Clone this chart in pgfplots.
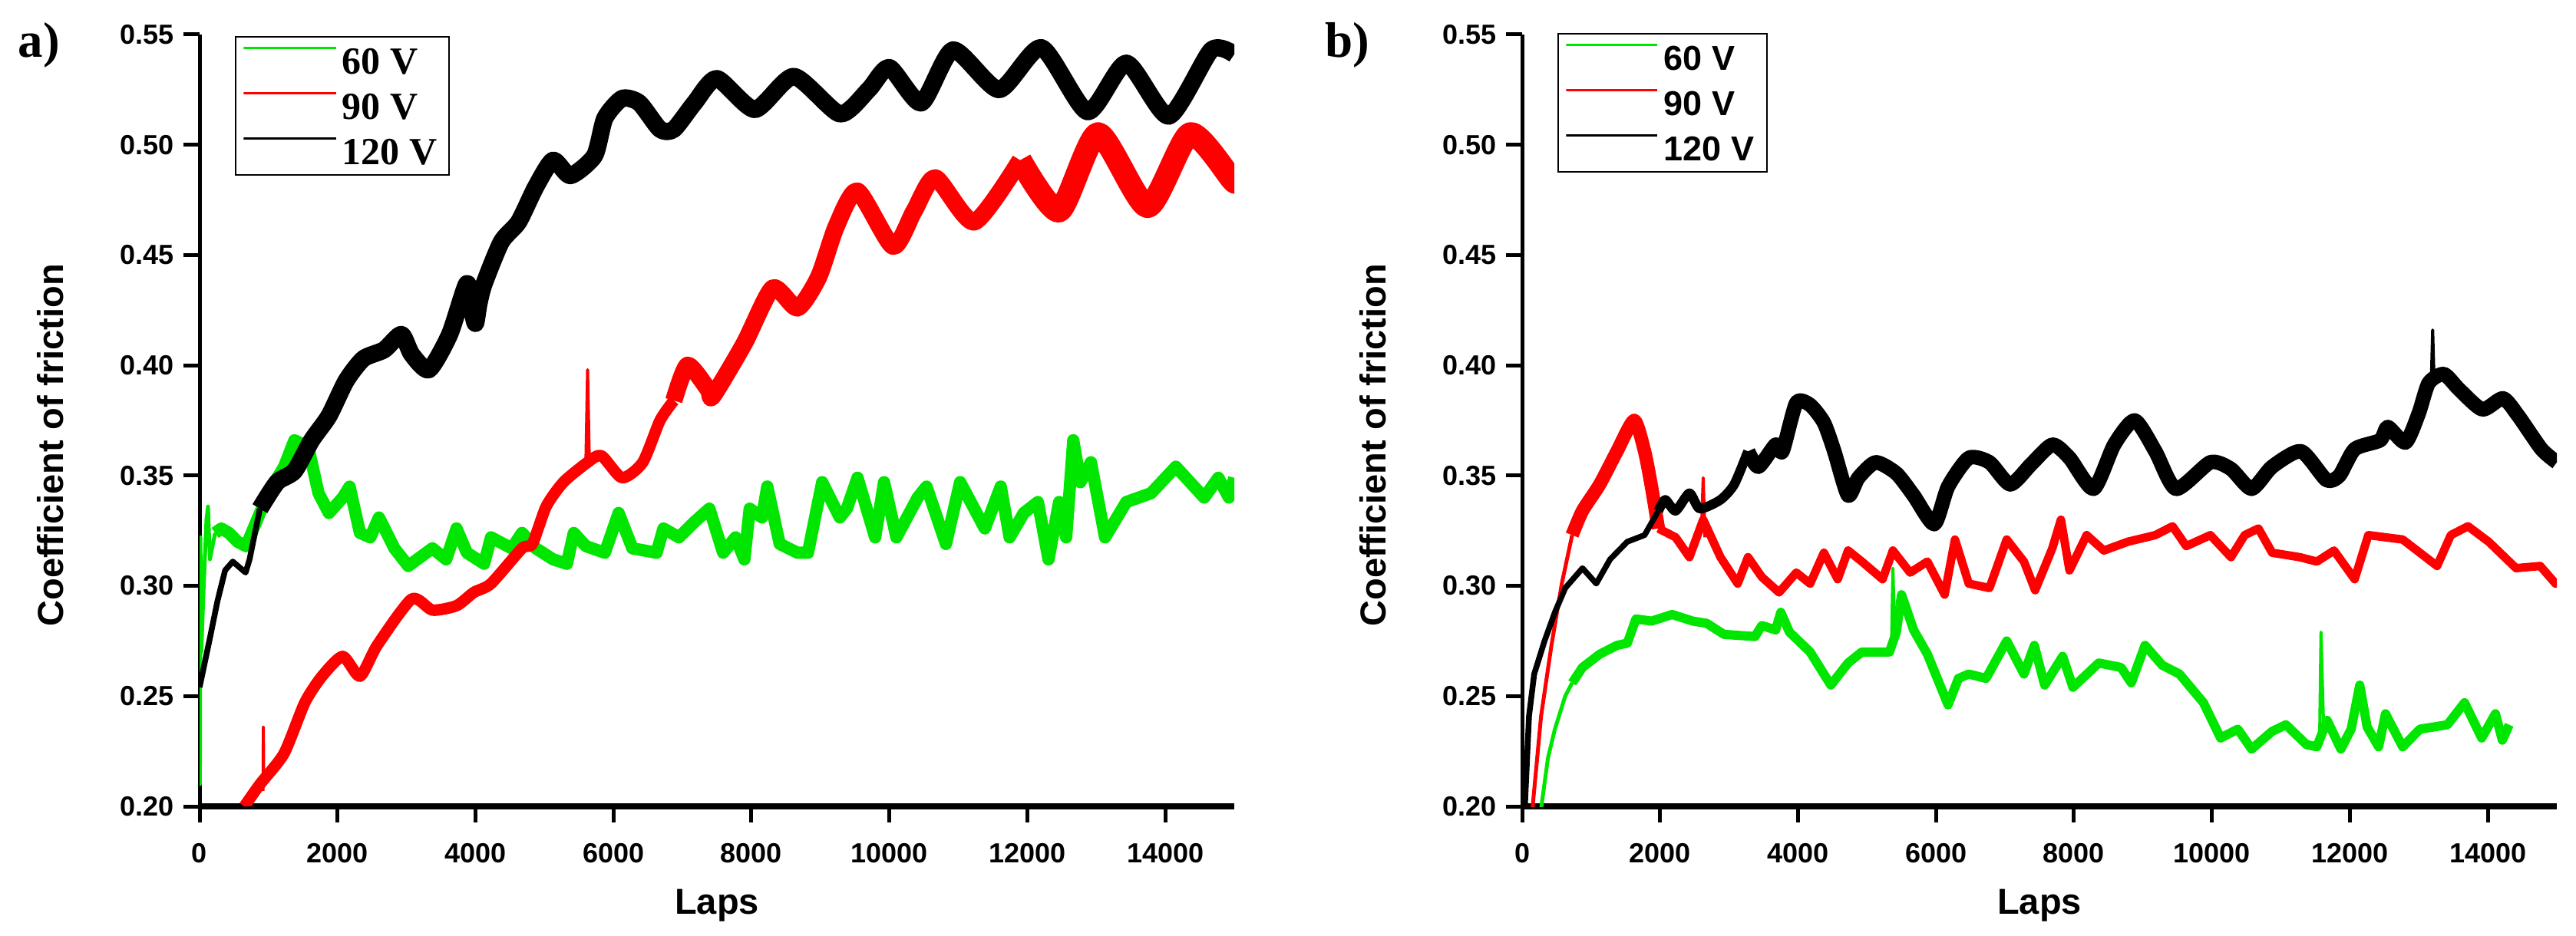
\documentclass[border=0pt]{standalone}
\usepackage{fontspec}
\setmainfont{Liberation Sans}
\newfontfamily\timesfont{Liberation Serif}
\usepackage{pgfplots}
\pgfplotsset{compat=1.18}
\definecolor{cgreen}{RGB}{0,230,0}
\definecolor{cred}{RGB}{255,0,0}
\pgfplotsset{
 cofaxis/.style={
  scale only axis, width=269.6bp, height=201.2bp,
  xmin=0, xmax=15000, ymin=0.2, ymax=0.55,
  scaled x ticks=false, scaled y ticks=false,
  axis x line*=bottom, axis y line*=left,
  x axis line style={line width=1.6bp},
  y axis line style={line width=1bp},
  tick align=outside, major tick length=4.2bp,
  tick style={black, line width=1bp},
  xtick={0,2000,4000,6000,8000,10000,12000,14000},
  xticklabels={0,2000,4000,6000,8000,10000,12000,14000},
  ytick={0.2,0.25,0.3,0.35,0.4,0.45,0.5,0.55},
  yticklabels={0.20,0.25,0.30,0.35,0.40,0.45,0.50,0.55},
  ticklabel style={font=\bfseries\fontsize{7.2bp}{8bp}\selectfont},
  xticklabel style={yshift=-2bp},
  yticklabel style={xshift=1bp},
  xlabel={Laps}, ylabel={Coefficient of friction},
  label style={font=\bfseries\fontsize{9.4bp}{11bp}\selectfont},
  xlabel style={at={(axis description cs:0.5,-0.140)}, anchor=base},
  ylabel style={at={(axis description cs:-0.132,0.468)}, anchor=base},
  legend cell align=left,
 },
 band/.style={line join=round, line cap=butt, forget plot},
}
\begin{document}
\begin{tikzpicture}
\useasboundingbox (0,0) rectangle (671.2bp,244bp);
% ---------------- panel a ----------------
\begin{axis}[cofaxis, at={(52bp,33.8bp)}, anchor=south west,
  legend style={at={(axis description cs:0.034,0.998)}, anchor=north west,
    draw=black, line width=0.4bp, inner xsep=1.8bp, inner ysep=0.3bp,
    font=\timesfont\bfseries\fontsize{10bp}{12bp}\selectfont,
    nodes={inner xsep=1.3bp, inner ysep=2.5bp, text height=6.8bp, text depth=0bp},
    row sep=0pt},
  legend image code/.code={\path (0bp,3.4bp) rectangle (24.1bp,3.4bp); \draw[#1] (1.8bp,3.4bp) -- (22.8bp,3.4bp);}]
\addlegendimage{cgreen, line width=0.6bp}
\addlegendimage{cred, line width=0.6bp}
\addlegendimage{black, line width=0.6bp}
% 60 V
\addplot[cgreen, line width=1bp, band] coordinates {(0,0.258)(5,0.21)(12,0.322)(25,0.27)(60,0.30)(100,0.330)(122,0.336)(150,0.312)(225,0.324)};
\addplot[cgreen, line width=3.2bp, band] coordinates {
(225,0.324)(315,0.326)(425,0.324)(550,0.320)(675,0.318)(875,0.333)(1050,0.345)(1225,0.354)(1375,0.366)(1575,0.363)(1725,0.342)(1875,0.333)(2075,0.340)(2175,0.345)(2325,0.324)(2475,0.322)(2600,0.331)(2825,0.317)(3025,0.309)(3200,0.313)(3375,0.317)(3575,0.312)(3725,0.326)(3875,0.315)(4125,0.310)(4225,0.322)(4525,0.317)(4675,0.324)(4875,0.317)(5125,0.312)(5325,0.310)(5425,0.324)(5600,0.318)(5875,0.315)(6075,0.333)(6275,0.317)(6625,0.315)(6725,0.326)(6950,0.322)(7175,0.329)(7390,0.335)(7590,0.315)(7770,0.322)(7898,0.312)(7975,0.335)(8154,0.331)(8230,0.345)(8410,0.319)(8667,0.315)(8820,0.315)(9026,0.347)(9282,0.331)(9384,0.335)(9538,0.349)(9794,0.322)(9923,0.347)(10102,0.322)(10410,0.340)(10538,0.345)(10820,0.319)(11026,0.347)(11384,0.326)(11615,0.345)(11743,0.322)(11948,0.333)(12153,0.338)(12307,0.312)(12461,0.338)(12563,0.322)(12666,0.366)(12769,0.347)(12922,0.356)(13127,0.322)(13435,0.338)(13794,0.342)(14153,0.354)(14564,0.340)(14769,0.349)(14923,0.340)(15000,0.349)};
% 90 V
\addplot[cred, line width=3bp, band, smooth, tension=0.4] coordinates {
(650,0.200)(875,0.210)(1225,0.224)(1525,0.247)(1775,0.259)(2075,0.268)(2325,0.259)(2575,0.273)(3075,0.294)(3375,0.289)(3725,0.291)(3975,0.297)(4225,0.301)(4675,0.317)(4825,0.319)(5025,0.336)(5275,0.347)(5625,0.356)(5825,0.359)(6125,0.349)(6425,0.356)(6675,0.375)(6875,0.384)};
\addplot[cred, line width=4.5bp, band, smooth, tension=0.4] coordinates {
(6875,0.384)(7075,0.400)(7375,0.389)(7440,0.386)(7898,0.410)(8308,0.435)(8667,0.426)(8974,0.440)(9230,0.463)(9538,0.479)(10051,0.454)(10359,0.470)(10667,0.485)(11230,0.465)(11897,0.493)};
\addplot[cred, line width=6bp, band, smooth, tension=0.4] coordinates {
(11897,0.493)(12461,0.470)(13025,0.505)(13743,0.472)(14359,0.505)(14974,0.484)(15000,0.484)};
\addplot[cred, line width=0.8bp, band] coordinates {(920,0.207)(925,0.236)(930,0.209)};
\addplot[cred, line width=0.8bp, band] coordinates {(5600,0.355)(5625,0.398)(5650,0.357)};
% 120 V
\addplot[black, line width=1.5bp, band] coordinates {
(0,0.254)(148,0.276)(259,0.293)(370,0.307)(481,0.311)(667,0.306)(725,0.312)(875,0.335)};
\addplot[black, line width=4.5bp, band, smooth, tension=0.4] coordinates {
(875,0.335)(1125,0.347)(1375,0.352)(1625,0.366)(1875,0.377)(2125,0.393)(2375,0.403)(2675,0.407)(2925,0.414)(3075,0.405)(3325,0.398)(3625,0.414)(3875,0.437)(3950,0.425)(4000,0.419)(4050,0.428)(4125,0.437)(4375,0.456)(4625,0.465)(4875,0.481)(5125,0.493)(5375,0.486)(5725,0.495)(5875,0.512)(6125,0.521)(6375,0.519)(6675,0.507)(6875,0.507)(7175,0.519)(7500,0.530)(8050,0.516)(8615,0.531)(9282,0.514)(9700,0.525)(10000,0.535)(10462,0.519)(10923,0.543)(11590,0.525)(12205,0.544)(12872,0.515)(13436,0.537)(14051,0.513)(14667,0.543)(15000,0.541)};
\legend{60 V,90 V,120 V}
\end{axis}
% ---------------- panel b ----------------
\begin{axis}[cofaxis, at={(396.6bp,33.8bp)}, anchor=south west,
  legend style={at={(axis description cs:0.034,1.002)}, anchor=north west,
    draw=black, line width=0.4bp, inner xsep=1.8bp, inner ysep=0.3bp,
    font=\bfseries\fontsize{9bp}{11bp}\selectfont,
    nodes={inner xsep=1.5bp, inner ysep=2.65bp, text height=6.5bp, text depth=0bp},
    row sep=0pt},
  legend image code/.code={\path (0bp,3.25bp) rectangle (23.7bp,3.25bp); \draw[#1] (1bp,3.25bp) -- (22.2bp,3.25bp);}]
\addlegendimage{cgreen, line width=0.6bp}
\addlegendimage{cred, line width=0.6bp}
\addlegendimage{black, line width=0.6bp}
% 60 V
\addplot[cgreen, line width=1bp, band] coordinates {(275,0.199)(375,0.222)(475,0.235)(625,0.250)(725,0.256)};
\addplot[cgreen, line width=2.4bp, band] coordinates {
(725,0.256)(875,0.263)(1125,0.269)(1375,0.273)(1525,0.274)(1650,0.285)(1875,0.284)(2175,0.287)(2475,0.284)(2675,0.283)(2925,0.278)(3375,0.277)(3475,0.282)(3675,0.280)(3750,0.288)(3875,0.279)(4175,0.270)(4475,0.255)(4725,0.265)(4925,0.270)(5325,0.270)(5425,0.279)(5500,0.296)(5675,0.280)(5875,0.269)(6175,0.246)(6325,0.258)(6475,0.260)(6725,0.258)(7025,0.275)(7275,0.260)(7425,0.273)(7575,0.255)(7836,0.268)(7985,0.254)(8359,0.265)(8682,0.263)(8831,0.256)(9030,0.273)(9280,0.264)(9529,0.260)(9877,0.247)(10126,0.231)(10375,0.235)(10575,0.226)(10873,0.234)(11072,0.237)(11371,0.228)(11521,0.227)(11670,0.239)(11869,0.226)(12018,0.235)(12143,0.255)(12250,0.236)(12417,0.227)(12516,0.242)(12765,0.227)(13015,0.235)(13414,0.237)(13662,0.247)(13911,0.231)(14110,0.242)(14210,0.230)(14310,0.237)};
\addplot[cgreen, line width=0.8bp, band] coordinates {(5355,0.272)(5375,0.308)(5400,0.280)};
\addplot[cgreen, line width=0.8bp, band] coordinates {(11560,0.228)(11581,0.279)(11620,0.235)};
% 90 V
\addplot[cred, line width=1bp, band] coordinates {(150,0.199)(275,0.241)(425,0.273)(575,0.301)(725,0.323)};
\addplot[cred, line width=3.5bp, band, smooth, tension=0.4] coordinates {
(725,0.323)(875,0.334)(1125,0.346)(1375,0.361)(1625,0.375)(1775,0.361)(1875,0.345)(1975,0.326)};
\addplot[cred, line width=2.2bp, band] coordinates {
(1975,0.326)(2225,0.322)(2425,0.313)(2625,0.330)(2875,0.313)(3125,0.301)(3275,0.313)(3475,0.304)(3725,0.297)(3975,0.306)(4175,0.301)(4375,0.315)(4575,0.303)(4725,0.316)(4925,0.311)(5225,0.303)(5375,0.316)(5625,0.306)(5875,0.311)(6125,0.296)(6275,0.321)(6475,0.301)(6775,0.299)(7025,0.321)(7275,0.311)(7437,0.298)(7686,0.317)(7811,0.330)(7935,0.307)(8184,0.323)(8433,0.316)(8782,0.320)(9180,0.323)(9429,0.327)(9628,0.318)(9977,0.323)(10276,0.313)(10475,0.323)(10674,0.326)(10873,0.315)(11272,0.313)(11521,0.311)(11770,0.316)(12069,0.303)(12267,0.323)(12765,0.321)(13264,0.309)(13463,0.323)(13712,0.327)(14011,0.320)(14409,0.308)(14758,0.309)(14982,0.301)(15000,0.301)};
\addplot[cred, line width=0.8bp, band] coordinates {(2600,0.325)(2625,0.349)(2650,0.322)};
% 120 V
\addplot[black, line width=1.5bp, band] coordinates {
(40,0.200)(100,0.241)(175,0.260)(325,0.275)(475,0.288)(625,0.299)(875,0.308)(1075,0.301)(1275,0.312)(1525,0.320)(1775,0.323)(1975,0.334)};
\addplot[black, line width=2.5bp, band, smooth, tension=0.4] coordinates {
(1975,0.334)(2075,0.339)(2225,0.334)(2425,0.342)(2575,0.335)(2875,0.339)(3075,0.346)(3275,0.361)};
\addplot[black, line width=3.8bp, band, smooth, tension=0.4] coordinates {
(3275,0.361)(3425,0.354)(3675,0.364)(3775,0.361)(3975,0.383)(4175,0.382)(4375,0.374)(4525,0.361)(4725,0.341)(4875,0.349)(5125,0.356)(5425,0.351)(5675,0.341)(5975,0.328)(6175,0.345)(6475,0.358)(6775,0.356)(7075,0.346)(7375,0.355)(7686,0.364)(7935,0.358)(8284,0.344)(8583,0.364)(8881,0.375)(9180,0.361)(9479,0.344)(9977,0.356)(10276,0.353)(10575,0.344)(10873,0.354)(11292,0.361)(11659,0.348)(11848,0.350)(12070,0.362)(12438,0.366)(12550,0.372)(12806,0.365)(12996,0.378)(13143,0.392)(13363,0.396)(13586,0.389)(13920,0.380)(14220,0.385)(14443,0.377)(14777,0.362)(15000,0.356)};
\addplot[black, line width=0.8bp, band] coordinates {(13180,0.392)(13200,0.416)(13220,0.393)};
\legend{60 V,90 V,120 V}
\end{axis}
\node[anchor=base west, inner sep=0pt, font=\timesfont\bfseries\fontsize{13bp}{15bp}\selectfont] at (4.6bp,229bp) {a)};
\node[anchor=base west, inner sep=0pt, font=\timesfont\bfseries\fontsize{13bp}{15bp}\selectfont] at (345bp,229bp) {b)};
\end{tikzpicture}
\end{document}
